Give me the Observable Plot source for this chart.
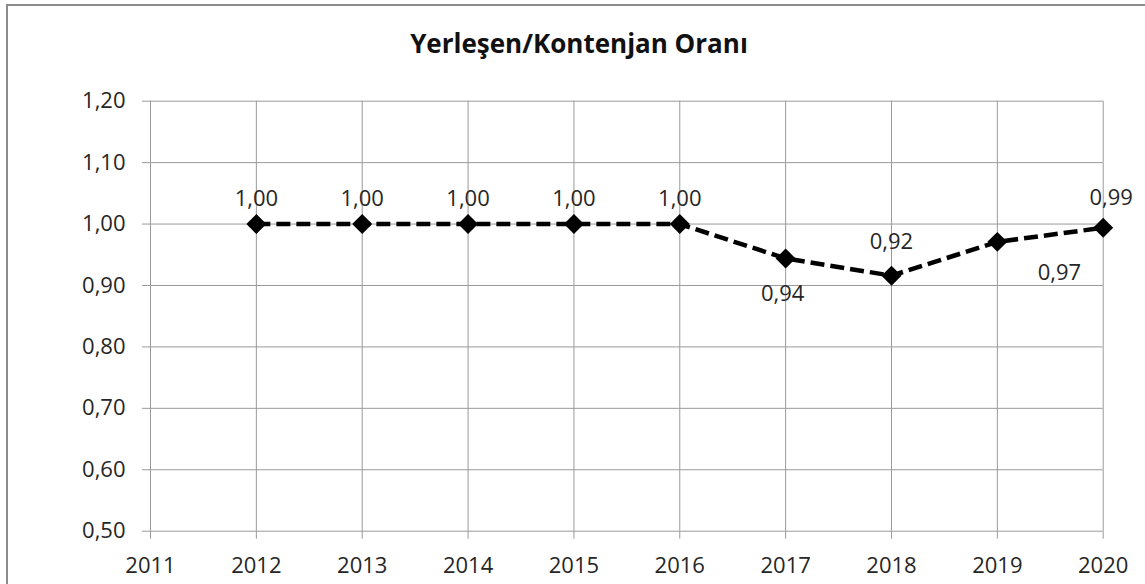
<!DOCTYPE html>
<html>
<head>
<meta charset="utf-8">
<script src="https://cdn.jsdelivr.net/npm/d3@7"></script>
<script src="https://cdn.jsdelivr.net/npm/@observablehq/plot@0.6"></script>
<style>
  html, body { margin: 0; padding: 0; background: #fff; }
  body { position: relative; width: 1145px; height: 584px; overflow: hidden; font-family: "Open Sans", sans-serif; }
  #frame { position: absolute; left: 6px; top: 4px; width: 1300px; height: 800px; border: 2px solid #8c8c8c; box-sizing: border-box; }
  #title { position: absolute; left: 0; top: 27px; width: 1158px; text-align: center; font: bold 26px "Open Sans", sans-serif; line-height: 32px; color: #111; }
  #chart { position: absolute; left: 0; top: 80px; }
</style>
</head>
<body>
<div id="frame"></div>
<div id="title">Yerleşen/Kontenjan Oranı</div>
<div id="chart"></div>
<script>
// ---- data ----
const years = [2012, 2013, 2014, 2015, 2016, 2017, 2018, 2019, 2020];
const ratios = [1.00, 1.00, 1.00, 1.00, 1.00, 0.944, 0.916, 0.971, 0.994];
const labelPlacement = ["above", "above", "above", "above", "above", "below", "aboveHigh", "belowRight", "aboveRight"];
const xTicks = [2011, 2012, 2013, 2014, 2015, 2016, 2017, 2018, 2019, 2020];
const yTicks = [0.5, 0.6, 0.7, 0.8, 0.9, 1.0, 1.1, 1.2];

const rows = years.map((y, i) => ({year: y, value: ratios[i], place: labelPlacement[i]}));
const fmt = v => d3.format(".2f")(v).replace(".", ",");

// label placement styles (offsets in px from the marker)
const nudge = {
  above: {dx: 0, dy: -25},
  aboveHigh: {dx: 0, dy: -34},
  below: {dx: -3, dy: 35},
  belowRight: {dx: 62, dy: 31},
  aboveRight: {dx: 8, dy: -30}
};
const labelMarks = Object.entries(nudge).map(([k, o]) =>
  Plot.text(rows.filter(d => d.place === k), {
    x: "year", y: "value", text: d => fmt(d.value),
    dx: o.dx, dy: o.dy,
    fontSize: 22, fill: "#262626"
  })
);

const plot = Plot.plot({
  width: 1145,
  height: 504,
  marginTop: 20.7,
  marginBottom: 53.3,
  marginLeft: 150,
  marginRight: 42.3,
  style: {fontFamily: "Open Sans, sans-serif", fontSize: "22px", background: "transparent", overflow: "visible"},
  x: {domain: [2011, 2020]},
  y: {domain: [0.5, 1.2]},
  marks: [
    Plot.gridX(xTicks, {stroke: "#9a9a9a", strokeOpacity: 1, strokeWidth: 1}),
    Plot.gridY(yTicks, {stroke: "#9a9a9a", strokeOpacity: 1, strokeWidth: 1}),
    Plot.axisX({ticks: xTicks, tickFormat: "d", tickSize: 8, tickPadding: 18, stroke: "#9a9a9a", fill: "#262626", fontSize: 22, label: null}),
    Plot.axisY({ticks: yTicks, tickFormat: fmt, tickSize: 8, tickPadding: 17, stroke: "#9a9a9a", fill: "#262626", fontSize: 22, label: null}),
    Plot.line(rows, {x: "year", y: "value", stroke: "black", strokeWidth: 4.5, strokeDasharray: "14,6", strokeLinecap: "butt"}),
    Plot.dot(rows, {x: "year", y: "value", symbol: "diamond2", r: 9, fill: "black", stroke: "none"}),
    ...labelMarks
  ]
});
document.getElementById("chart").append(plot);
</script>
</body>
</html>
